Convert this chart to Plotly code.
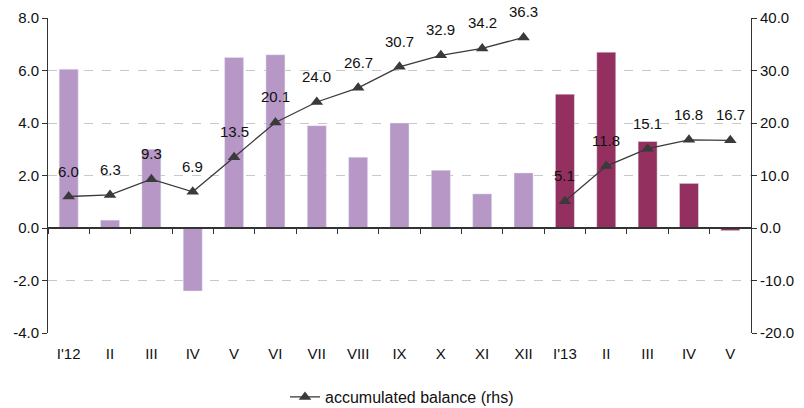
import plotly.graph_objects as go

months = ["I'12", "II", "III", "IV", "V", "VI", "VII", "VIII", "IX", "X", "XI", "XII",
          "I'13", "II", "III", "IV", "V"]
monthly_2012 = [6.05, 0.3, 3.0, -2.4, 6.5, 6.6, 3.9, 2.7, 4.0, 2.2, 1.3, 2.1]
monthly_2013 = [5.1, 6.7, 3.3, 1.7, -0.1]
accum_2012 = [6.0, 6.3, 9.3, 6.9, 13.5, 20.1, 24.0, 26.7, 30.7, 32.9, 34.2, 36.3]
accum_2013 = [5.1, 11.8, 15.1, 16.8, 16.7]
left_ticks = [-4.0, -2.0, 0.0, 2.0, 4.0, 6.0, 8.0]
right_ticks = [-20.0, -10.0, 0.0, 10.0, 20.0, 30.0, 40.0]

x12 = list(range(len(monthly_2012)))
x13 = list(range(len(monthly_2012), len(months)))

LIGHT = "#B797C6"
DARK = "#93305F"
LINE = "#3A3A3A"
AXIS = "#333333"
FONT = "Liberation Sans, Arial, sans-serif"


def fmt(v):
    return f"{v:.1f}"


fig = go.Figure()
fig.add_bar(x=x12, y=monthly_2012, marker_color=LIGHT, showlegend=False, width=0.46)
fig.add_bar(x=x13, y=monthly_2013, marker_color=DARK, showlegend=False, width=0.46)

line_style = dict(color=LINE, width=1.3)
marker_style = dict(symbol="triangle-up", size=11, color=LINE)
fig.add_scatter(x=x12, y=accum_2012, yaxis="y2", mode="lines+markers",
                line=line_style, marker=marker_style,
                name="accumulated balance (rhs)", legendgroup="acc")
fig.add_scatter(x=x13, y=accum_2013, yaxis="y2", mode="lines+markers",
                line=line_style, marker=marker_style,
                name="accumulated balance (rhs)", legendgroup="acc", showlegend=False)

# value labels above each point of the accumulated line
labels = []
for xs, ys in ((x12, accum_2012), (x13, accum_2013)):
    for xv, yv in zip(xs, ys):
        labels.append(dict(x=xv, y=yv, xref="x", yref="y2", text=fmt(yv),
                           showarrow=False, yanchor="bottom", yshift=15,
                           font=dict(size=15, color="#111111", family=FONT)))

# invisible trace carrying the zero-level axis with boundary ticks
fig.add_scatter(x=[0, len(months) - 1], y=[0, 0], xaxis="x2", mode="markers",
                marker=dict(opacity=0), showlegend=False, hoverinfo="skip")

xr = [-0.5, len(months) - 0.5]
fig.update_layout(
    width=804, height=408,
    margin=dict(l=48, r=53, t=18, b=75, autoexpand=False),
    plot_bgcolor="white", paper_bgcolor="white",
    font=dict(family=FONT, size=15, color="#111111"),
    barmode="overlay",
    annotations=labels,
    xaxis=dict(range=xr, tickmode="array", tickvals=list(range(len(months))),
               ticktext=months, showgrid=False, showline=False, ticks="",
               zeroline=False, tickfont=dict(size=15), ticklabelstandoff=10),
    xaxis2=dict(range=xr, overlaying="x", anchor="free", position=1 / 3,
                tickmode="array", tickvals=[i - 0.5 for i in range(len(months) + 1)],
                ticks="outside", ticklen=5, tickcolor=AXIS,
                showticklabels=False, showline=True, linecolor=AXIS,
                linewidth=1.5, showgrid=False, zeroline=False),
    yaxis=dict(range=[-4, 8], tickmode="array", tickvals=left_ticks,
               ticktext=[fmt(v) for v in left_ticks], showline=True,
               linecolor=AXIS, linewidth=1, ticks="outside", ticklen=5,
               tickcolor=AXIS, gridcolor="#C8C8C8", griddash="dash",
               zeroline=False, tickfont=dict(size=15)),
    yaxis2=dict(range=[-20, 40], tickmode="array", tickvals=right_ticks,
                ticktext=[fmt(v) for v in right_ticks], overlaying="y",
                side="right", showline=True, linecolor=AXIS, linewidth=1,
                ticks="outside", ticklen=5, tickcolor=AXIS,
                showgrid=False, zeroline=False, tickfont=dict(size=15)),
    legend=dict(orientation="h", x=0.5, xanchor="center", xref="container",
                y=0.027, yanchor="middle", yref="container",
                font=dict(size=16)),
)

fig.write_html("out.html")
